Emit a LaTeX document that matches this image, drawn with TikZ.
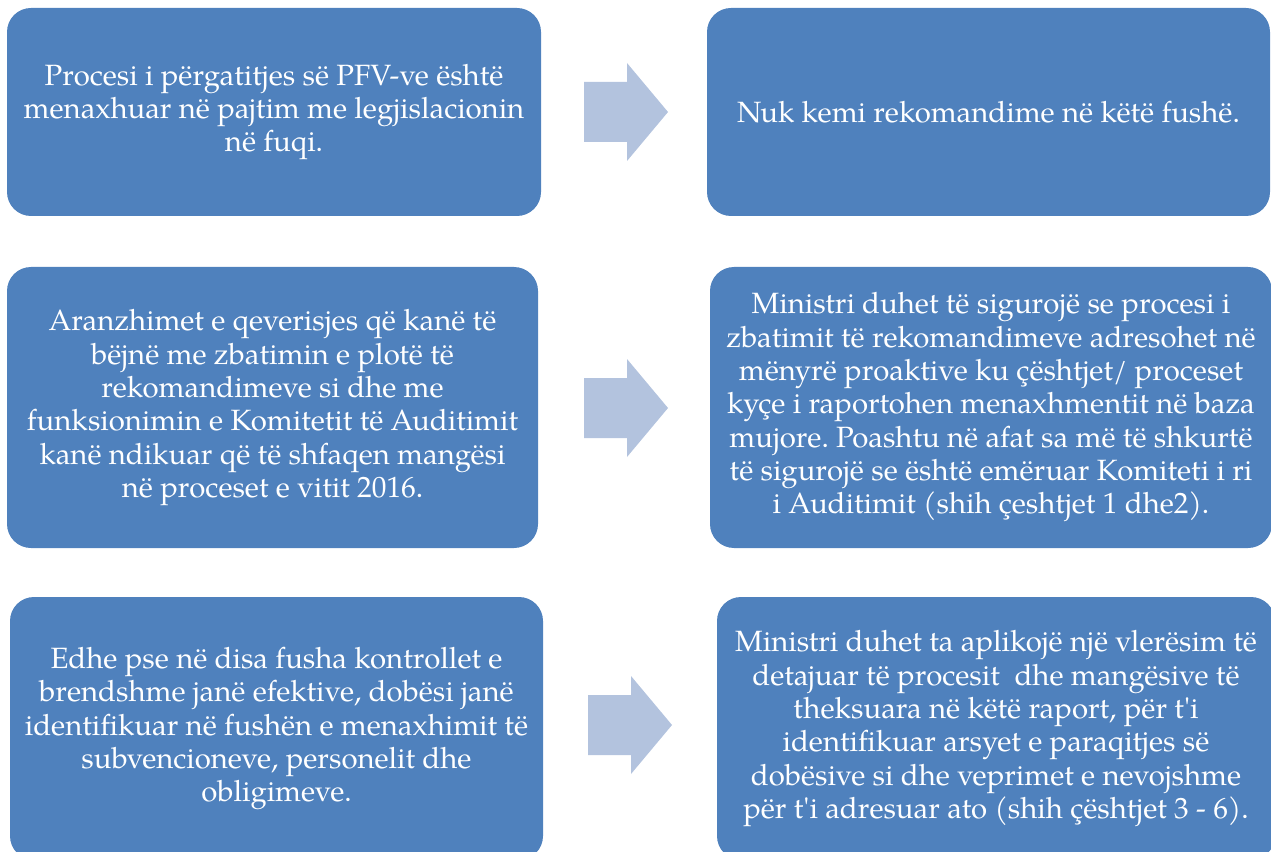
\documentclass[tikz,border=0pt]{standalone}
\usepackage{fontspec}
\setmainfont{TeX Gyre Pagella}
\usetikzlibrary{positioning}
\frenchspacing

\definecolor{boxblue}{HTML}{4F81BD}
\definecolor{arrowblue}{HTML}{B3C3DE}
\def\pxu{0.75pt}

\begin{document}
\begin{tikzpicture}[x=0.75pt, y=-0.75pt,
  finding/.style={fill=boxblue, rounded corners=18pt, text=white, align=center,
    inner sep=0pt, font=\fontsize{22}{25}\selectfont}]
  \useasboundingbox (0,0) rectangle (1271,852);
  \clip (0,0) rectangle (1271,852);
  % row 1
  \node[finding, minimum width=534*\pxu, minimum height=208*\pxu] (left1) at (274,112)
    {Procesi i përgatitjes së PFV-ve është\\ menaxhuar në pajtim me legjislacionin\\ në fuqi.};
  \node[finding, minimum width=563*\pxu, minimum height=208*\pxu] (right1) at (988.5,112)
    {Nuk kemi rekomandime në këtë fushë.};
  \coordinate (arrow1) at (584,112);
  % row 2
  \node[finding, minimum width=531*\pxu, minimum height=281*\pxu] (left2) at (272.5,407.5)
    {Aranzhimet e qeverisjes që kanë të\\ bëjnë me zbatimin e plotë të\\ rekomandimeve si dhe me\\
     funksionimin e Komitetit të Auditimit\\ kanë ndikuar që të shfaqen mangësi\\ në proceset e vitit 2016.};
  \node[finding, minimum width=562*\pxu, minimum height=281*\pxu] (right2) at (991,407.5)
    {Ministri duhet të sigurojë se procesi i\\ zbatimit të rekomandimeve adresohet në\\
     mënyrë proaktive ku çështjet/ proceset\\ kyçe i raportohen menaxhmentit në baza\\
     mujore. Poashtu në afat sa më të shkurtë\\ të sigurojë se është emëruar Komiteti i ri\\
     i Auditimit (shih çeshtjet 1 dhe2).};
  \coordinate (arrow2) at (584,408);
  % row 3
  \node[finding, minimum width=533*\pxu, minimum height=263*\pxu] (left3) at (276.5,728.5)
    {Edhe pse në disa fusha kontrollet e\\ brendshme janë efektive, dobësi janë\\
     identifikuar në fushën e menaxhimit të\\ subvencioneve, personelit dhe\\ obligimeve.};
  \node[finding, minimum width=558*\pxu, minimum height=263*\pxu] (right3) at (996,728.5)
    {Ministri duhet ta aplikojë një vlerësim të\\ detajuar të procesit~ dhe mangësive të\\
     theksuara në këtë raport, për t\textquotesingle i\\ identifikuar arsyet e paraqitjes së\\
     dobësive si dhe veprimet e nevojshme\\ për t\textquotesingle i adresuar ato (shih çështjet 3 - 6).};
  \coordinate (arrow3) at (588,725);
  % block arrows between the columns
  \foreach \a in {arrow1, arrow2, arrow3}
    \fill[arrowblue] (\a) ++(0,-30) -- ++(43,0) -- ++(0,-19) -- ++(41,49)
      -- ++(-41,49) -- ++(0,-19) -- ++(-43,0) -- cycle;
\end{tikzpicture}
\end{document}
